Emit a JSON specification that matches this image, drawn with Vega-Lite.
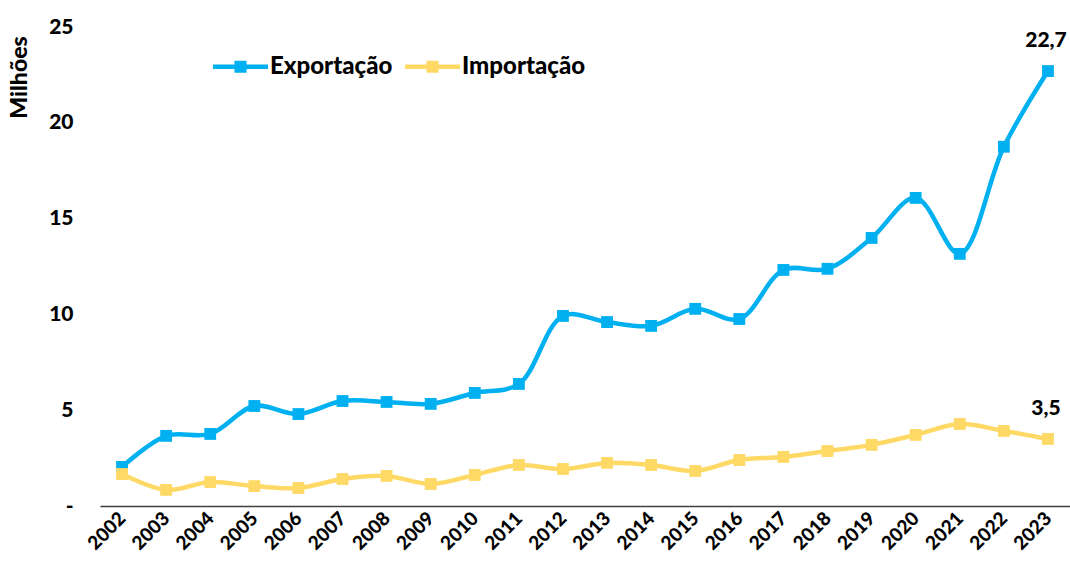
{
  "$schema": "https://vega.github.io/schema/vega-lite/v6.json",
  "width": 970,
  "height": 479,
  "autosize": "none",
  "padding": {"left": 100, "top": 27, "right": 0, "bottom": 63},
  "background": "white",
  "config": {
    "view": {"stroke": null},
    "font": "Lato"
  },
  "data": {
    "values": [
      {"ano": "2002", "serie": "Exportação", "valor": 2.04},
      {"ano": "2003", "serie": "Exportação", "valor": 3.66},
      {"ano": "2004", "serie": "Exportação", "valor": 3.76},
      {"ano": "2005", "serie": "Exportação", "valor": 5.22},
      {"ano": "2006", "serie": "Exportação", "valor": 4.8},
      {"ano": "2007", "serie": "Exportação", "valor": 5.48},
      {"ano": "2008", "serie": "Exportação", "valor": 5.43},
      {"ano": "2009", "serie": "Exportação", "valor": 5.33},
      {"ano": "2010", "serie": "Exportação", "valor": 5.9},
      {"ano": "2011", "serie": "Exportação", "valor": 6.37},
      {"ano": "2012", "serie": "Exportação", "valor": 9.92},
      {"ano": "2013", "serie": "Exportação", "valor": 9.6},
      {"ano": "2014", "serie": "Exportação", "valor": 9.4},
      {"ano": "2015", "serie": "Exportação", "valor": 10.29},
      {"ano": "2016", "serie": "Exportação", "valor": 9.76},
      {"ano": "2017", "serie": "Exportação", "valor": 12.32},
      {"ano": "2018", "serie": "Exportação", "valor": 12.38},
      {"ano": "2019", "serie": "Exportação", "valor": 13.99},
      {"ano": "2020", "serie": "Exportação", "valor": 16.08},
      {"ano": "2021", "serie": "Exportação", "valor": 13.16},
      {"ano": "2022", "serie": "Exportação", "valor": 18.75},
      {"ano": "2023", "serie": "Exportação", "valor": 22.7},
      {"ano": "2002", "serie": "Importação", "valor": 1.67},
      {"ano": "2003", "serie": "Importação", "valor": 0.84},
      {"ano": "2004", "serie": "Importação", "valor": 1.25},
      {"ano": "2005", "serie": "Importação", "valor": 1.04},
      {"ano": "2006", "serie": "Importação", "valor": 0.94},
      {"ano": "2007", "serie": "Importação", "valor": 1.41},
      {"ano": "2008", "serie": "Importação", "valor": 1.57},
      {"ano": "2009", "serie": "Importação", "valor": 1.15},
      {"ano": "2010", "serie": "Importação", "valor": 1.62},
      {"ano": "2011", "serie": "Importação", "valor": 2.14},
      {"ano": "2012", "serie": "Importação", "valor": 1.93},
      {"ano": "2013", "serie": "Importação", "valor": 2.25},
      {"ano": "2014", "serie": "Importação", "valor": 2.14},
      {"ano": "2015", "serie": "Importação", "valor": 1.83},
      {"ano": "2016", "serie": "Importação", "valor": 2.4},
      {"ano": "2017", "serie": "Importação", "valor": 2.56},
      {"ano": "2018", "serie": "Importação", "valor": 2.87},
      {"ano": "2019", "serie": "Importação", "valor": 3.19},
      {"ano": "2020", "serie": "Importação", "valor": 3.71},
      {"ano": "2021", "serie": "Importação", "valor": 4.28},
      {"ano": "2022", "serie": "Importação", "valor": 3.92},
      {"ano": "2023", "serie": "Importação", "valor": 3.5}
    ]
  },
  "encoding": {
    "x": {
      "field": "ano", "type": "ordinal",
      "scale": {"type": "point", "padding": 0.5},
      "axis": {
        "title": null,
        "labelAngle": -45,
        "labelAlign": "right",
        "labelBaseline": "middle",
        "labelFont": "Lato",
        "labelFontWeight": 900,
        "labelFontSize": 19,
        "labelColor": "#000000",
        "labelPadding": 9,
        "ticks": false,
        "domainColor": "#404040",
        "domainWidth": 1.5,
        "grid": false
      }
    },
    "y": {
      "field": "valor", "type": "quantitative",
      "scale": {"domain": [0, 25], "nice": false},
      "axis": {
        "title": "Milhões",
        "titleFont": "Lato",
        "titleFontSize": 23,
        "titleFontWeight": 900,
        "titleColor": "#000000",
        "titleAngle": -90,
        "titleAlign": "center",
        "titleBaseline": "middle",
        "titleX": -81,
        "titleY": 50,
        "values": [0, 5, 10, 15, 20, 25],
        "labelExpr": "datum.value == 0 ? '-' : datum.label",
        "labelFont": "Lato",
        "labelFontWeight": 900,
        "labelFontSize": 21,
        "labelColor": "#000000",
        "labelPadding": 27,
        "ticks": false,
        "domain": false,
        "grid": false
      }
    },
    "color": {
      "field": "serie", "type": "nominal",
      "scale": {"domain": ["Exportação", "Importação"], "range": ["#00B0F0", "#FFD966"]},
      "legend": null
    }
  },
  "layer": [
    {
      "mark": {"type": "line", "interpolate": "catmull-rom", "strokeWidth": 4.5},
      "encoding": {
        "color": {
          "field": "serie", "type": "nominal",
          "scale": {"domain": ["Exportação", "Importação"], "range": ["#00B0F0", "#FFD966"]},
          "legend": {
            "title": null,
            "orient": "none",
            "direction": "horizontal",
            "legendX": 113,
            "legendY": 12,
            "symbolType": "M-1,-0.085H1V0.085H-1Z M-0.22,-0.22H0.22V0.22H-0.22Z",
            "symbolSize": 3025,
            "symbolStrokeWidth": 0,
            "labelFont": "Lato",
            "labelFontSize": 24,
            "labelFontWeight": 900,
            "labelColor": "#000000",
            "labelOffset": 2,
            "columnPadding": 12,
            "labelLimit": 300,
            "encode": {
              "symbols": {"update": {"fill": {"scale": "color", "field": "value"}, "strokeWidth": {"value": 0}}}
            }
          }
        }
      }
    },
    {
      "mark": {"type": "point", "shape": "square", "filled": true, "size": 140, "opacity": 1}
    },
    {
      "transform": [
        {"filter": "datum.ano == '2023'"},
        {"calculate": "replace(format(datum.valor, '.1f'), '.', ',')", "as": "rotulo"}
      ],
      "mark": {"type": "text", "dy": -30, "dx": -2, "font": "Lato", "fontWeight": 900, "fontSize": 21, "color": "#000000"},
      "encoding": {
        "text": {"field": "rotulo"},
        "color": {"value": "#000000"}
      }
    }
  ]
}
